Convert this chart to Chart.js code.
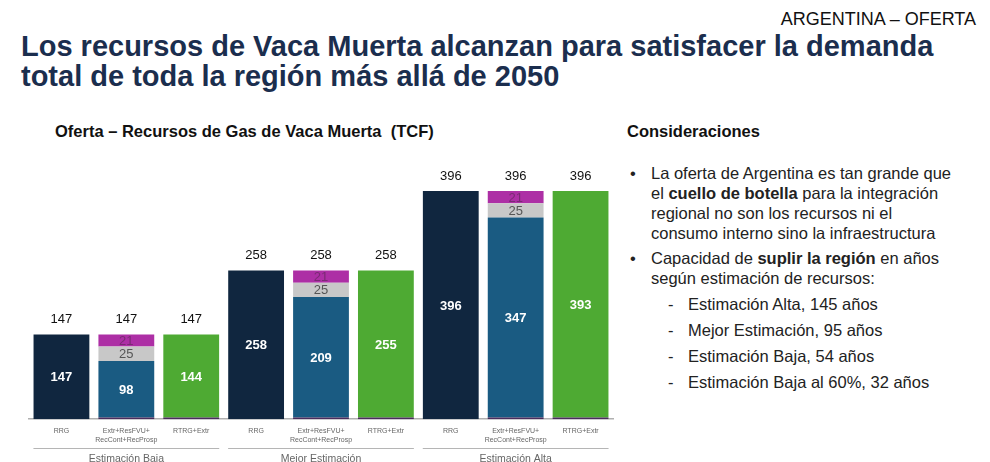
<!DOCTYPE html>
<html>
<head>
<meta charset="utf-8">
<script src="https://cdn.jsdelivr.net/npm/chart.js@4/dist/chart.umd.min.js"></script>
<style>
  body { margin: 0; width: 990px; height: 462px; background: #fff; font-family: "Liberation Sans", Arial, sans-serif; position: relative; overflow: hidden; }
  .tag { position: absolute; right: 14px; top: 9px; font-size: 18px; color: #111; }
  h1 { position: absolute; left: 21px; top: 31px; margin: 0; font-size: 29px; line-height: 30px; color: #1b2e4e; font-weight: bold; }
  .sub { position: absolute; left: 55px; top: 122px; font-size: 16.5px; font-weight: bold; color: #111; }
  .cons { position: absolute; left: 627px; top: 122px; font-size: 16.5px; font-weight: bold; color: #111; }
  ul { position: absolute; left: 627px; top: 163px; margin: 0; padding: 0; list-style: none; font-size: 16.5px; line-height: 20px; color: #222; width: 340px; }
  ul li { position: relative; padding-left: 24px; margin-bottom: 5px; }
  ul li:before { content: "\2022"; position: absolute; left: 3px; }
  ul.dash { position: static; margin-top: 6px; }
  ul.dash li { padding-left: 37px; margin-bottom: 6px; }
  ul.dash li:before { content: "-"; left: 17px; }
  #wrap { position: absolute; left: 0; top: 140px; width: 640px; height: 322px; }
</style>
</head>
<body>
<div class="tag">ARGENTINA – OFERTA</div>
<h1>Los recursos de Vaca Muerta alcanzan para satisfacer la demanda<br>total de toda la región más allá de 2050</h1>
<div class="sub">Oferta – Recursos de Gas de Vaca Muerta&nbsp; (TCF)</div>
<div class="cons">Consideraciones</div>
<ul>
  <li>La oferta de Argentina es tan grande que<br>el <b>cuello de botella</b> para la integración<br>regional no son los recursos ni el<br>consumo interno sino la infraestructura</li>
  <li>Capacidad de <b>suplir la región</b> en años<br>según estimación de recursos:
    <ul class="dash">
      <li>Estimación Alta, 145 años</li>
      <li>Mejor Estimación, 95 años</li>
      <li>Estimación Baja, 54 años</li>
      <li>Estimación Baja al 60%, 32 años</li>
    </ul>
  </li>
</ul>
<div id="wrap"><canvas id="grafico"></canvas></div>
<script>
var categorias = [
    'RRG', ['Extr+ResFVU+', 'RecCont+RecProsp'], 'RTRG+Extr',
    'RRG', ['Extr+ResFVU+', 'RecCont+RecProsp'], 'RTRG+Extr',
    'RRG', ['Extr+ResFVU+', 'RecCont+RecProsp'], 'RTRG+Extr'
];
var grupos = ['Estimación Baja', 'Mejor Estimación', 'Estimación Alta'];

var rrg = [147, null, null, 258, null, null, 396, null, null];
var extr = [null, 3, 3, null, 3, 3, null, 3, 3];
var resFvu = [null, 98, null, null, 209, null, null, 347, null];
var recCont = [null, 25, null, null, 25, null, null, 25, null];
var recProsp = [null, 21, null, null, 21, null, null, 21, null];
var rtrg = [null, null, 144, null, null, 255, null, null, 393];
var totales = [147, 147, 147, 258, 258, 258, 396, 396, 396];

// etiquetas dentro de las barras y totales arriba
var etiquetasPlugin = {
    id: 'etiquetas',
    afterDatasetsDraw: function(chart) {
        var ctx = chart.ctx;
        ctx.save();
        ctx.textAlign = 'center';
        ctx.textBaseline = 'middle';
        chart.data.datasets.forEach(function(ds, i) {
            if (!ds.etiqueta) return;
            var meta = chart.getDatasetMeta(i);
            meta.data.forEach(function(bar, j) {
                var v = ds.data[j];
                if (v === null) return;
                ctx.fillStyle = ds.etiqueta;
                ctx.font = ds.negrita ? 'bold 13px "Liberation Sans", Arial' : '13px "Liberation Sans", Arial';
                ctx.fillText(v, bar.x, (bar.y + bar.base) / 2 + 1);
            });
        });
        var x = chart.scales.x, y = chart.scales.y;
        ctx.fillStyle = '#111';
        ctx.font = '13px "Liberation Sans", Arial';
        totales.forEach(function(t, j) {
            ctx.fillText(t, x.getPixelForValue(j), y.getPixelForValue(t) - 15);
        });
        // lineas y nombres de grupo
        var fondo = chart.chartArea.bottom;
        ctx.strokeStyle = '#b5b5b5';
        ctx.lineWidth = 1;
        ctx.fillStyle = '#666';
        ctx.font = '10.5px "Liberation Sans", Arial';
        grupos.forEach(function(g, k) {
            var x0 = x.getPixelForValue(k * 3) - 28;
            var x1 = x.getPixelForValue(k * 3 + 2) + 28;
            ctx.beginPath();
            ctx.moveTo(x0, Math.round(fondo + 29) + 0.5);
            ctx.lineTo(x1, Math.round(fondo + 29) + 0.5);
            ctx.stroke();
            ctx.fillText(g, (x0 + x1) / 2, fondo + 40);
        });
        ctx.restore();
    }
};

var ctx = document.getElementById('grafico').getContext('2d');
var grafico = new Chart(ctx, {
    type: 'bar',
    data: {
        labels: categorias,
        datasets: [
            { label: 'RRG', data: rrg, backgroundColor: '#10263f', etiqueta: '#ffffff', negrita: true },
            { label: 'Extr', data: extr, backgroundColor: '#4a2c5c' },
            { label: 'ResFVU', data: resFvu, backgroundColor: '#1a5b82', etiqueta: '#ffffff', negrita: true },
            { label: 'RecCont', data: recCont, backgroundColor: '#c8c8c8', etiqueta: '#555555' },
            { label: 'RecProsp', data: recProsp, backgroundColor: '#ad2fa5', etiqueta: '#7a2a74' },
            { label: 'RTRG', data: rtrg, backgroundColor: '#4eaa33', etiqueta: '#ffffff', negrita: true }
        ]
    },
    options: {
        responsive: true,
        maintainAspectRatio: false,
        animation: false,
        layout: { padding: { left: 29, right: 27, top: 20, bottom: 10 } },
        plugins: { legend: { display: false }, tooltip: { enabled: false } },
        datasets: { bar: { categoryPercentage: 1, barPercentage: 0.86, borderWidth: 0 } },
        scales: {
            x: {
                stacked: true,
                grid: { display: false, drawTicks: false },
                border: { color: '#b0b0b0', width: 1.5 },
                ticks: { color: '#666', font: { size: 7, family: 'Arial, sans-serif' }, padding: 8, maxRotation: 0, autoSkip: false }
            },
            y: {
                stacked: true,
                display: false,
                min: 0,
                max: 450
            }
        }
    },
    plugins: [etiquetasPlugin]
});
</script>
</body>
</html>
